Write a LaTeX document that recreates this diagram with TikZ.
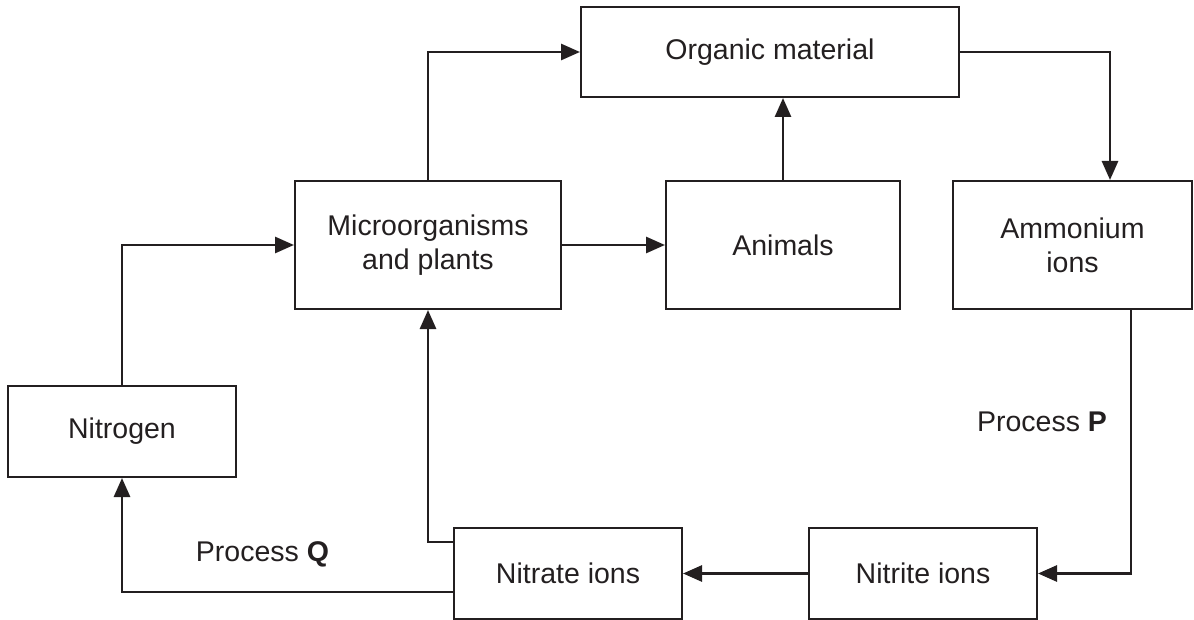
\documentclass[tikz,border=0pt]{standalone}
\usepackage{fontspec}
\setmainfont{Liberation Sans}
\usetikzlibrary{arrows.meta}
\definecolor{ink}{HTML}{231F20}
\begin{document}
\begin{tikzpicture}[x=1pt,y=-1pt,
  boxnode/.style={draw=ink, line width=2pt, rectangle, inner sep=0pt, align=center,
    font=\fontsize{28.5}{34}\selectfont, text=ink},
  conn/.style={draw=ink, line width=2.8pt, -{Triangle[length=19pt,width=16pt]}},
  lbl/.style={inner sep=0pt, font=\fontsize{28.5}{34}\selectfont, text=ink}]
\useasboundingbox (0,0) rectangle (1194,620);
\node[boxnode, minimum width=378pt, minimum height=90pt] (organic) at (770,52) {Organic material};
\node[boxnode, minimum width=266pt, minimum height=128pt] (micro) at (428,245) {Microorganisms\\and plants};
\node[boxnode, minimum width=234pt, minimum height=128pt] (animals) at (783,245) {Animals};
\node[boxnode, minimum width=239pt, minimum height=128pt] (ammon) at (1072.5,245) {Ammonium\\ions};
\node[boxnode, minimum width=228pt, minimum height=91pt] (nitrogen) at (122,431.5) {Nitrogen};
\node[boxnode, minimum width=228pt, minimum height=91pt] (nitrate) at (568,573.5) {Nitrate ions};
\node[boxnode, minimum width=228pt, minimum height=91pt] (nitrite) at (923,573.5) {Nitrite ions};
\node[lbl] (labelP) at (1042,422) {Process \textbf{P}};
\node[lbl] (labelQ) at (262.5,554) {Process \textbf{Q}};
\draw[conn] (nitrogen.north) |- (micro.west);
\draw[conn] (micro.north) |- (organic.west);
\draw[conn] (micro.east) -- (animals.west);
\draw[conn] (animals.north) -- (animals.north |- organic.south);
\draw[conn] (organic.east) -| ([xshift=37.5pt]ammon.north);
\draw[conn] ([xshift=58.5pt]ammon.south) |- (nitrite.east);
\draw[conn] (nitrite.west) -- (nitrate.east);
\draw[conn] ([yshift=31.5pt]nitrate.west) -| (micro.south);
\draw[conn] ([yshift=-18.5pt]nitrate.west) -| (nitrogen.south);
\end{tikzpicture}
\end{document}
